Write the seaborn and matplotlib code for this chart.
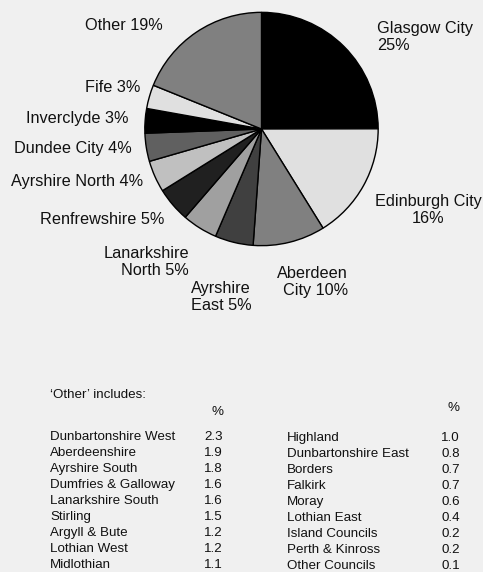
import matplotlib
matplotlib.use("Agg")
import matplotlib.pyplot as plt
import seaborn as sns

# ---- data ----
councils = ["Glasgow City", "Edinburgh City", "Aberdeen City", "Ayrshire East",
            "Lanarkshire North", "Renfrewshire", "Ayrshire North", "Dundee City",
            "Inverclyde", "Fife", "Other"]
shares = [25.0, 16.2, 10.0, 5.3, 4.9, 4.8, 4.4, 3.9, 3.4, 3.3, 18.9]
pie_labels = ["Glasgow City\n25%", "Edinburgh City\n16%", "Aberdeen\nCity 10%",
              "Ayrshire\nEast 5%", "Lanarkshire\nNorth 5%", "Renfrewshire 5%",
              "Ayrshire North 4%", "Dundee City 4%", "Inverclyde 3%", "Fife 3%",
              "Other 19%"]
slice_colors = ["#000000", "#e0e0e0", "#808080", "#404040", "#a0a0a0", "#202020",
                "#c0c0c0", "#606060", "#000000", "#e0e0e0", "#808080"]

other_left_names = ["Dunbartonshire West", "Aberdeenshire", "Ayrshire South",
                    "Dumfries & Galloway", "Lanarkshire South", "Stirling",
                    "Argyll & Bute", "Lothian West", "Midlothian"]
other_left_vals = [2.3, 1.9, 1.8, 1.6, 1.6, 1.5, 1.2, 1.2, 1.1]
other_right_names = ["Highland", "Dunbartonshire East", "Borders", "Falkirk",
                     "Moray", "Lothian East", "Island Councils", "Perth & Kinross",
                     "Other Councils"]
other_right_vals = [1.0, 0.8, 0.7, 0.7, 0.6, 0.4, 0.2, 0.2, 0.1]

# ---- style ----
sns.set_theme(style="white")
plt.rcParams['font.family'] = ['Liberation Sans', 'DejaVu Sans']
BG = "#f0f0f0"

W, H = 483, 572
fig = plt.figure(figsize=(W / 100, H / 100), dpi=100, facecolor=BG)

def fx(x):
    return x / W

def fy(y):
    return 1 - y / H

# pie axes placed by pixel geometry of the reference
cx, cy, r = 261.5, 129, 119
ax = fig.add_axes([fx(cx - r), fy(cy + r), 2 * r / W, 2 * r / H])
ax.set_facecolor(BG)
ax.pie(shares, colors=slice_colors, startangle=90, counterclock=False,
       wedgeprops=dict(edgecolor="black", linewidth=1.0))
ax.set_xlim(-1.02, 1.02)
ax.set_ylim(-1.02, 1.02)
ax.set_aspect("equal")
ax.axis("off")

# label placement (x, y, ha) in pixels
label_pos = [
    (377, 37, "left", "left"),
    (428, 210, "center", "center"),
    (348, 282, "right", "right"),
    (221, 297, "center", "left"),
    (189, 262, "right", "right"),
    (164, 219, "right", "right"),
    (143, 182, "right", "right"),
    (132, 148, "right", "right"),
    (129, 118, "right", "right"),
    (140, 88, "right", "right"),
    (163, 26, "right", "right"),
]
fs = 11.7
for lab, (x, y, ha, ma) in zip(pie_labels, label_pos):
    fig.text(fx(x), fy(y), lab, ha=ha, va="center", multialignment=ma,
             fontsize=fs, color="#111111", linespacing=1.15)

# 'Other' table
tfs = 9.6
fig.text(fx(50), fy(395), "\u2018Other\u2019 includes:", ha="left", va="center",
         fontsize=tfs, color="#111111")
fig.text(fx(218), fy(412), "%", ha="center", va="center", fontsize=tfs, color="#111111")
fig.text(fx(453), fy(408), "%", ha="center", va="center", fontsize=tfs, color="#111111")
row0, step = 437, 15.95
for i, (n, v) in enumerate(zip(other_left_names, other_left_vals)):
    y = row0 + i * step
    fig.text(fx(50), fy(y), n, ha="left", va="center", fontsize=tfs, color="#111111")
    fig.text(fx(223), fy(y), f"{v:.1f}", ha="right", va="center", fontsize=tfs, color="#111111")
for i, (n, v) in enumerate(zip(other_right_names, other_right_vals)):
    y = row0 + 1 + i * step
    fig.text(fx(287), fy(y), n, ha="left", va="center", fontsize=tfs, color="#111111")
    fig.text(fx(460), fy(y), f"{v:.1f}", ha="right", va="center", fontsize=tfs, color="#111111")

fig.savefig("out.png", dpi=100, facecolor=BG)
